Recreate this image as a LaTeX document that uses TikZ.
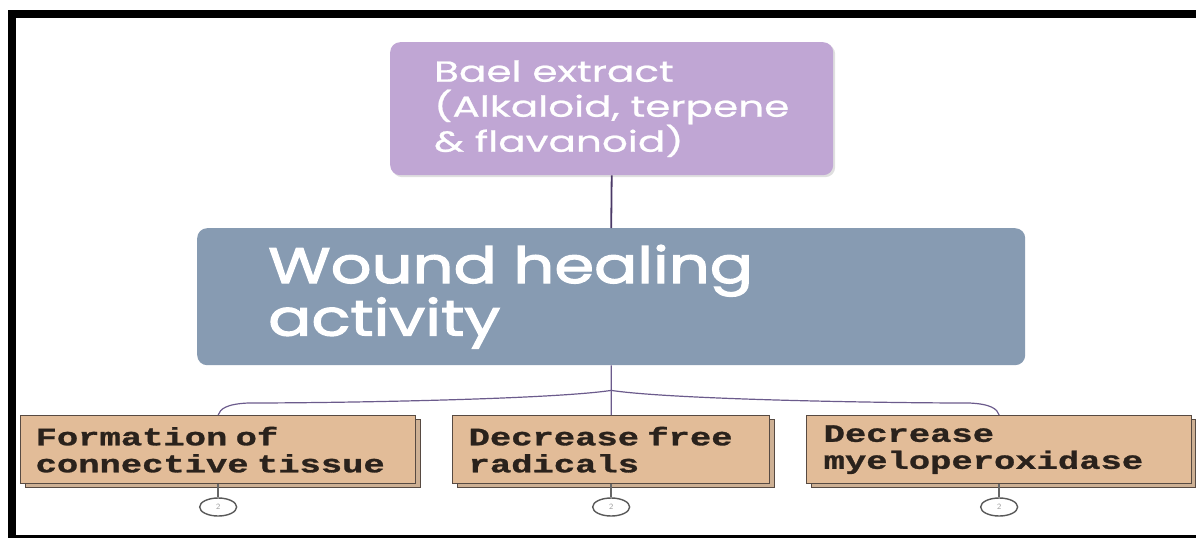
\documentclass[tikz,border=0pt]{standalone}
\usepackage{fontspec}
\usetikzlibrary{shapes.geometric,shadows,calc}
\newfontfamily\baelfont[FakeStretch=1.4,FakeBold=0.8]{Poppins}
\newfontfamily\woundfont[FakeStretch=1.28,FakeBold=2.5]{Poppins}
\newfontfamily\slabfont[FakeStretch=1.42,FakeBold=1.2,WordSpace=1.5]{Liberation Mono}
\definecolor{baelpurple}{HTML}{C0A6D4}
\definecolor{woundblue}{HTML}{879BB2}
\definecolor{tanfill}{HTML}{E2BC98}
\definecolor{tanshadow}{HTML}{CDB094}
\definecolor{tanborder}{HTML}{574A42}
\definecolor{linepurple}{HTML}{4A3866}
\definecolor{branchpurple}{HTML}{6B5B8C}
\definecolor{slabtext}{HTML}{2A221C}
\tikzset{
  topbox/.style={rectangle, rounded corners=10pt, fill=baelpurple, draw=none,
    text=white, align=left, inner sep=0pt, font=\baelfont\fontsize{29}{35}\selectfont,
    drop shadow={opacity=0.25, shadow xshift=2pt, shadow yshift=-2pt}},
  midbox/.style={rectangle, rounded corners=10pt, fill=woundblue, draw=none,
    text=white, align=left, inner sep=0pt, font=\woundfont\fontsize{50}{48}\selectfont},
  effectbox/.style={rectangle, fill=tanfill, draw=tanborder, line width=1.3pt,
    text=slabtext, align=left, inner sep=0pt,
    font=\slabfont\bfseries\fontsize{25}{27}\selectfont},
  boxshadow/.style={rectangle, fill=tanshadow, draw=tanborder, line width=1.3pt, inner sep=0pt},
  refmark/.style={ellipse, draw=black!65, line width=1.4pt, minimum width=37pt,
    minimum height=18pt, inner sep=0pt, text=black!40, font=\sffamily\fontsize{8}{8}\selectfont},
  stem/.style={draw=linepurple, line width=1.8pt},
  branch/.style={draw=branchpurple, line width=1.2pt},
  tick/.style={draw=black!60, line width=1.4pt}
}
\begin{document}
\begin{tikzpicture}[x=1pt,y=-1pt]
\useasboundingbox (0,0) rectangle (1196,538);
% frame
\fill[black] (8,10) rectangle (1196,18);
\fill[black] (8,10) rectangle (16,538);
\fill[black] (8,535) rectangle (1196,537.5);

% top box
\node[topbox, anchor=north west, minimum width=443pt, minimum height=133pt] (bael) at (390,42)
  {Bael extract\\(Alkaloid, terpene\\\& flavanoid)};

% middle box
\node[midbox, anchor=north west, minimum width=828pt, minimum height=137pt, text width=686pt] (wound) at (197,228)
  {Wound healing\\activity};

% shadows of effect boxes
\node[boxshadow, anchor=north west, minimum width=395pt, minimum height=68pt] (s1) at (25,419) {};
\node[boxshadow, anchor=north west, minimum width=317pt, minimum height=68pt] (s2) at (457,419) {};
\node[boxshadow, anchor=north west, minimum width=384pt, minimum height=68pt] (s3) at (811,419) {};

% effect boxes
\node[effectbox, anchor=north west, minimum width=395pt, minimum height=68pt, text width=365pt] (e1) at (20,415)
  {Formation~of\\connective~tissue};
\node[effectbox, anchor=north west, minimum width=317pt, minimum height=68pt, text width=285pt] (e2) at (452,415)
  {Decrease~free\\radicals};
\node[effectbox, anchor=north west, minimum width=385pt, minimum height=68pt, text width=351pt] (e3) at (806,415)
  {Decrease\\myeloperoxidase};

% reference marks
\node[refmark] (r1) at (e1.south |- 0,507) {2};
\node[refmark] (r2) at (e2.south |- 0,507) {2};
\node[refmark] (r3) at (e3.south |- 0,507) {2};

% connectors
\draw[stem] (bael.south) -- (wound.north);
\coordinate (fork) at ($(wound.south)+(0,25)$);
\draw[branch] (wound.south) -- (e2.north);
\draw[branch] (fork) .. controls ($(fork)+(-60,9)$) and ($(e1.north)+(120,-12)$) .. ($(e1.north)+(30,-12)$)
  .. controls ($(e1.north)+(8,-11)$) and ($(e1.north)+(2,-6)$) .. (e1.north);
\draw[branch] (fork) .. controls ($(fork)+(60,9)$) and ($(e3.north)+(-120,-12)$) .. ($(e3.north)+(-30,-12)$)
  .. controls ($(e3.north)+(-8,-11)$) and ($(e3.north)+(-2,-6)$) .. (e3.north);
\draw[tick] (e1.south) -- (r1.north);
\draw[tick] (e2.south) -- (r2.north);
\draw[tick] (e3.south) -- (r3.north);
\end{tikzpicture}
\end{document}
